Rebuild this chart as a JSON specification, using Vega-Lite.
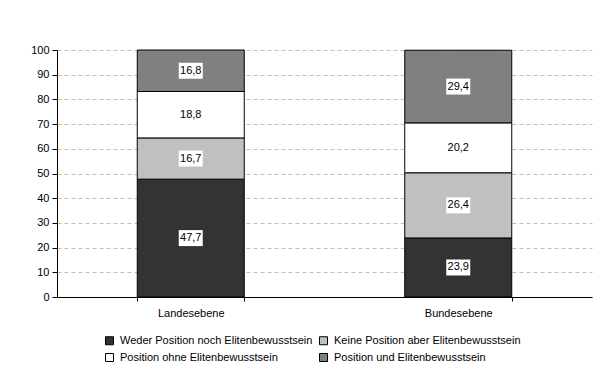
{
  "$schema": "https://vega.github.io/schema/vega-lite/v6.json",
  "width": 535,
  "height": 247,
  "autosize": "none",
  "padding": {"left": 57, "top": 50, "right": 9, "bottom": 77},
  "background": "white",
  "config": {
    "view": {"stroke": null},
    "font": "Liberation Sans",
    "locale": {"number": {"decimal": ",", "thousands": ".", "grouping": [3], "currency": ["", " €"]}},
    "axisY": {
      "title": null,
      "grid": true,
      "gridColor": "#c0c0c0",
      "gridDash": [4, 3],
      "gridWidth": 1,
      "tickSize": 5,
      "tickColor": "black",
      "domainColor": "black",
      "labelColor": "black",
      "labelFontSize": 11,
      "labelPadding": 3,
      "labelOverlap": false
    }
  },
  "data": {
    "values": [
      {"level": "Landesebene", "category": "Weder Position noch Elitenbewusstsein", "order": 1, "value": 47.7},
      {"level": "Landesebene", "category": "Keine Position aber Elitenbewusstsein", "order": 2, "value": 16.7},
      {"level": "Landesebene", "category": "Position ohne Elitenbewusstsein", "order": 3, "value": 18.8},
      {"level": "Landesebene", "category": "Position und Elitenbewusstsein", "order": 4, "value": 16.8},
      {"level": "Bundesebene", "category": "Weder Position noch Elitenbewusstsein", "order": 1, "value": 23.9},
      {"level": "Bundesebene", "category": "Keine Position aber Elitenbewusstsein", "order": 2, "value": 26.4},
      {"level": "Bundesebene", "category": "Position ohne Elitenbewusstsein", "order": 3, "value": 20.2},
      {"level": "Bundesebene", "category": "Position und Elitenbewusstsein", "order": 4, "value": 29.4}
    ]
  },
  "transform": [
    {"stack": "value", "groupby": ["level"], "sort": [{"field": "order", "order": "ascending"}], "as": ["y0", "y1"]},
    {"calculate": "(datum.y0 + datum.y1) / 2", "as": "mid"}
  ],
  "encoding": {
    "x": {
      "field": "level",
      "type": "nominal",
      "sort": ["Landesebene", "Bundesebene"],
      "scale": {"paddingInner": 0.6, "paddingOuter": 0.3},
      "axis": {
        "title": null,
        "labelAngle": 0,
        "tickBand": "extent",
        "tickSize": 4,
        "tickColor": "black",
        "domainColor": "black",
        "labelColor": "black",
        "labelFontSize": 11,
        "labelPadding": 6,
        "grid": false
      }
    }
  },
  "layer": [
    {
      "mark": {"type": "bar", "stroke": "black", "strokeWidth": 1},
      "encoding": {
        "y": {
          "field": "y0",
          "type": "quantitative",
          "scale": {"domain": [0, 100]},
          "axis": {"values": [0, 10, 20, 30, 40, 50, 60, 70, 80, 90, 100]}
        },
        "y2": {"field": "y1"},
        "color": {
          "field": "category",
          "type": "nominal",
          "scale": {
            "domain": [
              "Weder Position noch Elitenbewusstsein",
              "Keine Position aber Elitenbewusstsein",
              "Position ohne Elitenbewusstsein",
              "Position und Elitenbewusstsein"
            ],
            "range": ["#333333", "#c0c0c0", "#ffffff", "#808080"]
          },
          "legend": {
            "title": null,
            "orient": "none",
            "legendX": 47,
            "legendY": 285,
            "columns": 2,
            "direction": "horizontal",
            "padding": 0,
            "symbolType": "square",
            "symbolSize": 64,
            "symbolStrokeColor": "black",
            "symbolStrokeWidth": 1,
            "labelFontSize": 11,
            "labelColor": "black",
            "labelLimit": 0,
            "labelOffset": 5,
            "columnPadding": 4,
            "rowPadding": 4
          }
        }
      }
    },
    {
      "mark": {"type": "point", "shape": "M-1.5,-1H1.5V1H-1.5Z", "filled": true, "fill": "white", "opacity": 1, "size": 256, "strokeWidth": 0},
      "encoding": {
        "y": {"field": "mid", "type": "quantitative", "axis": {"values": [0, 10, 20, 30, 40, 50, 60, 70, 80, 90, 100]}}
      }
    },
    {
      "mark": {"type": "text", "fontSize": 11, "color": "black"},
      "encoding": {
        "y": {"field": "mid", "type": "quantitative", "axis": {"values": [0, 10, 20, 30, 40, 50, 60, 70, 80, 90, 100]}},
        "text": {"field": "value", "type": "quantitative", "format": ".1f"}
      }
    }
  ]
}
